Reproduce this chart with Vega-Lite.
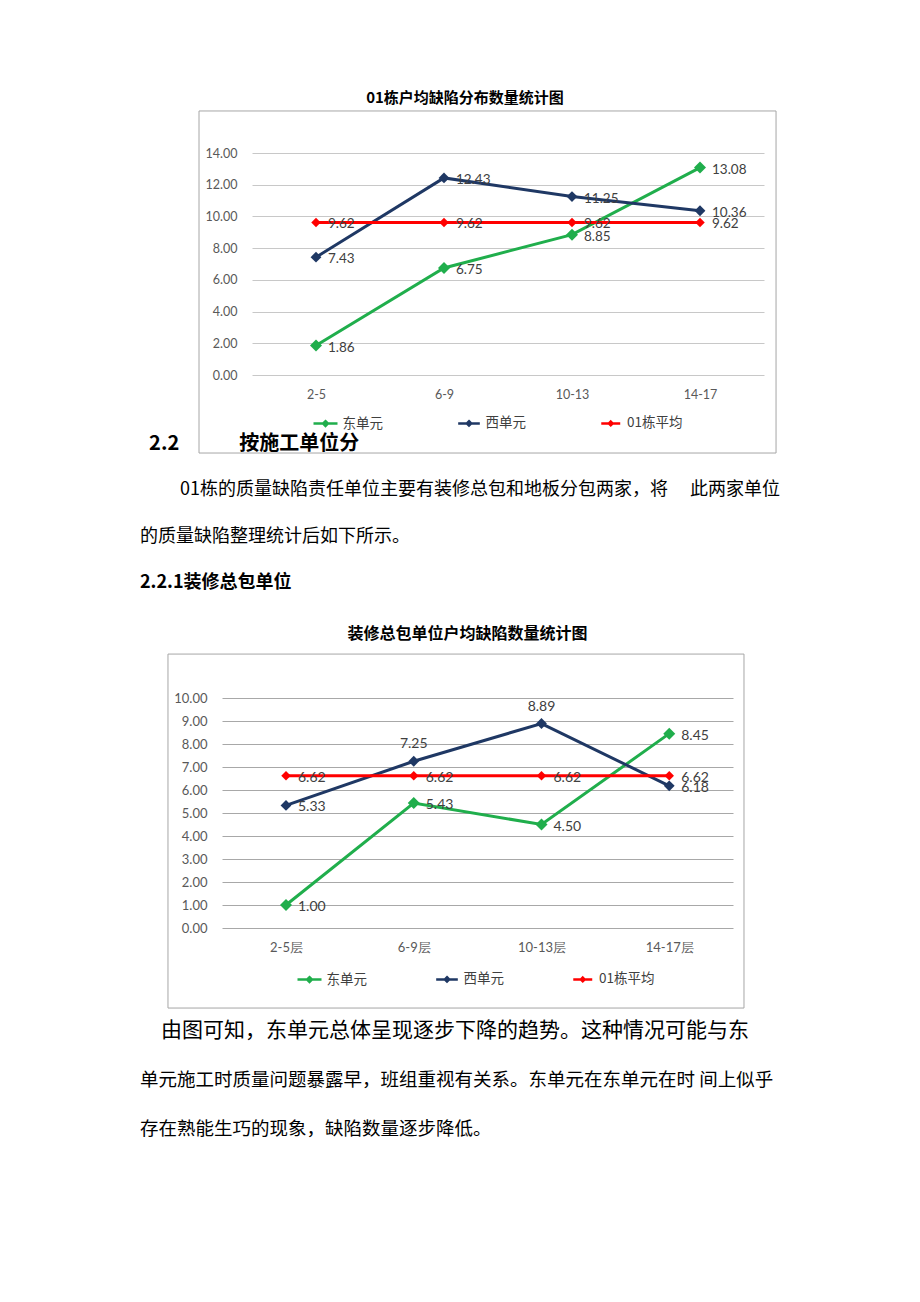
{
  "$schema": "https://vega.github.io/schema/vega-lite/v6.json",
  "background": "white",
  "padding": {"left": 140, "top": 91, "right": 0, "bottom": 0},
  "config": {"view": {"stroke": null}, "font": "Noto Sans CJK SC"},
  "datasets": {
    "c1": [
      {"floor": "2-5", "series": "东单元", "value": 1.86},
      {"floor": "6-9", "series": "东单元", "value": 6.75},
      {"floor": "10-13", "series": "东单元", "value": 8.85},
      {"floor": "14-17", "series": "东单元", "value": 13.08},
      {"floor": "2-5", "series": "西单元", "value": 7.43},
      {"floor": "6-9", "series": "西单元", "value": 12.43},
      {"floor": "10-13", "series": "西单元", "value": 11.25},
      {"floor": "14-17", "series": "西单元", "value": 10.36},
      {"floor": "2-5", "series": "01栋平均", "value": 9.62},
      {"floor": "6-9", "series": "01栋平均", "value": 9.62},
      {"floor": "10-13", "series": "01栋平均", "value": 9.62},
      {"floor": "14-17", "series": "01栋平均", "value": 9.62}
    ],
    "c2": [
      {"floor": "2-5层", "series": "东单元", "value": 1.00},
      {"floor": "6-9层", "series": "东单元", "value": 5.43},
      {"floor": "10-13层", "series": "东单元", "value": 4.50},
      {"floor": "14-17层", "series": "东单元", "value": 8.45},
      {"floor": "2-5层", "series": "西单元", "value": 5.33},
      {"floor": "6-9层", "series": "西单元", "value": 7.25},
      {"floor": "10-13层", "series": "西单元", "value": 8.89},
      {"floor": "14-17层", "series": "西单元", "value": 6.18},
      {"floor": "2-5层", "series": "01栋平均", "value": 6.62},
      {"floor": "6-9层", "series": "01栋平均", "value": 6.62},
      {"floor": "10-13层", "series": "01栋平均", "value": 6.62},
      {"floor": "14-17层", "series": "01栋平均", "value": 6.62}
    ]
  },
  "columns": 1,
  "align": "none",
  "spacing": 33,
  "resolve": {"legend": {"color": "independent", "size": "independent"}},
  "concat": [
    {
      "columns": 1,
      "align": "none",
      "spacing": -20,
      "resolve": {"legend": {"color": "independent", "size": "independent"}},
      "concat": [
        {
          "width": 624,
          "height": 222,
          "title": {"text": "01栋户均缺陷分布数量统计图", "font": "Noto Sans CJK SC", "fontSize": 15, "fontWeight": "bold", "color": "#000000", "anchor": "middle", "frame": "group", "dx": 13, "offset": 4},
          "resolve": {"scale": {"x": "independent", "y": "independent"}},
          "layer": [
            {
              "data": {"values": [{}]},
              "mark": {"type": "rect", "fill": "transparent", "stroke": "#a6a6a6", "strokeWidth": 1},
              "encoding": {
                "x": {"datum": -0.414, "type": "quantitative", "scale": {"domain": [-0.875, 4], "nice": false, "zero": false}, "axis": null},
                "x2": {"datum": 4.094},
                "y": {"datum": -4.92, "type": "quantitative", "scale": {"domain": [0, 14], "nice": false, "zero": false},
                  "axis": {"orient": "right", "title": null, "values": [0, 2, 4, 6, 8, 10, 12, 14], "labels": false, "domain": false, "grid": false, "ticks": true, "tickSize": -512, "tickColor": "#c8c8c8", "tickWidth": 1, "minExtent": 0}},
                "y2": {"datum": 16.65}
              }
            },
            {
              "data": {"name": "c1"},
              "encoding": {
                "x": {"field": "floor", "type": "ordinal", "sort": ["2-5", "6-9", "10-13", "14-17"], "scale": {"type": "point", "padding": 0.9375, "align": 0.7333},
                  "axis": {"title": null, "domain": false, "ticks": false, "tickSize": 0, "labelPadding": 13, "labelFont": "Lato", "labelFontSize": 12.5, "labelColor": "#595959", "labelAngle": 0, "grid": false}},
                "y": {"field": "value", "type": "quantitative", "scale": {"domain": [0, 14], "nice": false, "zero": false},
                  "axis": {"orient": "left", "offset": -112, "title": null, "values": [0, 2, 4, 6, 8, 10, 12, 14], "format": ".2f", "labelOverlap": false, "grid": false, "domain": false, "ticks": false, "tickSize": 0, "labelPadding": 15, "minExtent": 0, "labelFont": "Lato", "labelFontSize": 12.5, "labelColor": "#595959"}},
                "color": {"field": "series", "type": "nominal",
                  "scale": {"domain": ["东单元", "西单元", "01栋平均"], "range": ["#20ae4c", "#1f3864", "#ff0000"]},
                  "legend": {"orient": "none", "legendX": 178, "legendY": 263, "direction": "horizontal", "title": null,
                    "symbolType": "M-2,0H2M0,-0.4L0.4,0L0,0.4L-0.4,0Z", "symbolSize": 225, "symbolStrokeWidth": 2.5,
                    "labelFont": "Noto Sans CJK SC", "labelFontSize": 13.5, "labelColor": "#404040", "labelOffset": 9.5, "columnPadding": 70,
                    "encode": {"symbols": {"update": {"fill": {"scale": "color", "field": "value"}, "stroke": {"scale": "color", "field": "value"}}}}}}
              },
              "layer": [
                {"mark": {"type": "line", "strokeWidth": 3}},
                {"mark": {"type": "point", "shape": "diamond", "filled": true, "opacity": 1},
                  "encoding": {"size": {"field": "series", "type": "nominal", "scale": {"domain": ["东单元", "西单元", "01栋平均"], "range": [144, 90, 60]}, "legend": null}}},
                {"mark": {"type": "text", "align": "left", "baseline": "middle", "dx": 12, "dy": 2, "font": "Lato", "fontSize": 13.5},
                  "encoding": {"text": {"field": "value", "type": "quantitative", "format": ".2f"}, "color": {"value": "#404040"}}}
              ]
            }
          ]
        },
        {
          "width": 660,
          "height": 139,
          "encoding": {
            "x": {"datum": 0, "type": "quantitative", "scale": {"domain": [0, 1]}, "axis": null},
            "y": {"field": "line", "type": "ordinal", "scale": {"type": "point", "padding": 0}, "axis": null},
            "text": {"field": "text"}
          },
          "layer": [
            {"data": {"values": [{"line": 1, "text": "\u200b\u00a0\u00a02.2\u3000\u3000\u3000按施工单位分"}]},
              "mark": {"type": "text", "align": "left", "baseline": "middle", "font": "Noto Sans CJK SC", "fontSize": 20, "fontWeight": "bold", "color": "#000000"}},
            {"data": {"values": [{"line": 2, "text": "\u200b\u3000\u3000\u00a001栋的质量缺陷责任单位主要有装修总包和地板分包两家，将\u3000 此两家单位"}, {"line": 3, "text": "的质量缺陷整理统计后如下所示。"}]},
              "mark": {"type": "text", "align": "left", "baseline": "middle", "font": "Noto Sans CJK SC", "fontSize": 18, "color": "#000000"}},
            {"data": {"values": [{"line": 4, "text": "2.2.1装修总包单位"}]},
              "mark": {"type": "text", "align": "left", "baseline": "middle", "font": "Noto Sans CJK SC", "fontSize": 18, "fontWeight": "bold", "color": "#000000"}}
          ]
        }
      ]
    },
    {
      "columns": 1,
      "align": "none",
      "spacing": 11,
      "resolve": {"legend": {"color": "independent", "size": "independent"}},
      "concat": [
        {
          "width": 593,
          "height": 230,
          "title": {"text": "装修总包单位户均缺陷数量统计图", "font": "Noto Sans CJK SC", "fontSize": 16, "fontWeight": "bold", "color": "#000000", "anchor": "middle", "frame": "group", "dx": 31, "offset": 12},
          "resolve": {"scale": {"x": "independent", "y": "independent"}},
          "layer": [
            {
              "data": {"values": [{}]},
              "mark": {"type": "rect", "fill": "transparent", "stroke": "#a6a6a6", "strokeWidth": 1},
              "encoding": {
                "x": {"datum": -0.423, "type": "quantitative", "scale": {"domain": [-0.642, 4], "nice": false, "zero": false}, "axis": null},
                "x2": {"datum": 4.086},
                "y": {"datum": -3.48, "type": "quantitative", "scale": {"domain": [0, 10], "nice": false, "zero": false},
                  "axis": {"orient": "right", "title": null, "values": [0, 1, 2, 3, 4, 5, 6, 7, 8, 9, 10], "labels": false, "domain": false, "grid": false, "ticks": true, "tickSize": -511, "tickColor": "#a8a8a8", "tickWidth": 1, "minExtent": 0}},
                "y2": {"datum": 11.91}
              }
            },
            {
              "data": {"name": "c2"},
              "encoding": {
                "x": {"field": "floor", "type": "ordinal", "sort": ["2-5层", "6-9层", "10-13层", "14-17层"], "scale": {"type": "point", "padding": 0.821, "align": 0.696},
                  "axis": {"title": null, "domain": false, "ticks": false, "tickSize": 0, "labelPadding": 13, "labelFont": "Lato", "labelFontSize": 13, "labelColor": "#595959", "labelAngle": 0, "grid": false}},
                "y": {"field": "value", "type": "quantitative", "scale": {"domain": [0, 10], "nice": false, "zero": false},
                  "axis": {"orient": "left", "offset": -82, "title": null, "values": [0, 1, 2, 3, 4, 5, 6, 7, 8, 9, 10], "format": ".2f", "labelOverlap": false, "grid": false, "domain": false, "ticks": false, "tickSize": 0, "labelPadding": 15, "minExtent": 0, "labelFont": "Lato", "labelFontSize": 13, "labelColor": "#595959"}},
                "color": {"field": "series", "type": "nominal",
                  "scale": {"domain": ["东单元", "西单元", "01栋平均"], "range": ["#20ae4c", "#1f3864", "#ff0000"]},
                  "legend": {"orient": "none", "legendX": 162, "legendY": 274, "direction": "horizontal", "title": null,
                    "symbolType": "M-2,0H2M0,-0.4L0.4,0L0,0.4L-0.4,0Z", "symbolSize": 225, "symbolStrokeWidth": 2.5,
                    "labelFont": "Noto Sans CJK SC", "labelFontSize": 13.5, "labelColor": "#404040", "labelOffset": 9.5, "columnPadding": 64,
                    "encode": {"symbols": {"update": {"fill": {"scale": "color", "field": "value"}, "stroke": {"scale": "color", "field": "value"}}}}}}
              },
              "layer": [
                {"mark": {"type": "line", "strokeWidth": 3}},
                {"mark": {"type": "point", "shape": "diamond", "filled": true, "opacity": 1},
                  "encoding": {"size": {"field": "series", "type": "nominal", "scale": {"domain": ["东单元", "西单元", "01栋平均"], "range": [144, 90, 60]}, "legend": null}}},
                {"transform": [{"filter": "!(datum.series === '西单元' && (datum.floor === '6-9层' || datum.floor === '10-13层'))"}],
                  "mark": {"type": "text", "align": "left", "baseline": "middle", "dx": 12, "dy": 2, "font": "Lato", "fontSize": 14},
                  "encoding": {"text": {"field": "value", "type": "quantitative", "format": ".2f"}, "color": {"value": "#404040"}}},
                {"transform": [{"filter": "datum.series === '西单元' && (datum.floor === '6-9层' || datum.floor === '10-13层')"}],
                  "mark": {"type": "text", "align": "center", "baseline": "middle", "dy": -17, "font": "Lato", "fontSize": 14},
                  "encoding": {"text": {"field": "value", "type": "quantitative", "format": ".2f"}, "color": {"value": "#404040"}}}
              ]
            }
          ]
        },
        {
          "width": 660,
          "height": 98,
          "encoding": {
            "x": {"datum": 0, "type": "quantitative", "scale": {"domain": [0, 1]}, "axis": null},
            "y": {"field": "line", "type": "ordinal", "scale": {"type": "point", "padding": 0}, "axis": null},
            "text": {"field": "text"}
          },
          "layer": [
            {"data": {"values": [{"line": 1, "text": "\u200b\u3000由图可知，东单元总体呈现逐步下降的趋势。这种情况可能与东"}]},
              "mark": {"type": "text", "align": "left", "baseline": "middle", "font": "Noto Sans CJK SC", "fontSize": 21, "color": "#000000"}},
            {"data": {"values": [{"line": 2, "text": "单元施工时质量问题暴露早，班组重视有关系。东单元在东单元在时 间上似乎"}, {"line": 3, "text": "存在熟能生巧的现象，缺陷数量逐步降低。"}]},
              "mark": {"type": "text", "align": "left", "baseline": "middle", "font": "Noto Sans CJK SC", "fontSize": 18.5, "color": "#000000"}}
          ]
        }
      ]
    }
  ]
}
